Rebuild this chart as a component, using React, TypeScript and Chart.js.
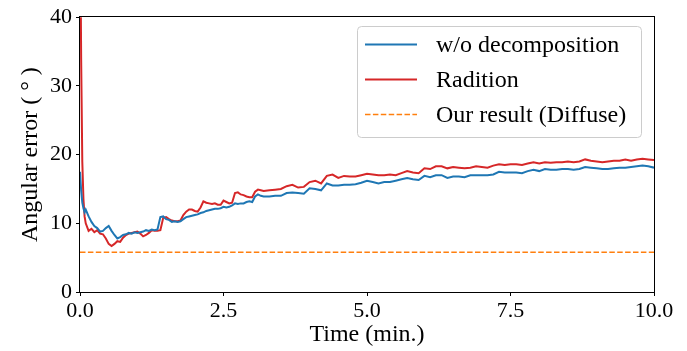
import React, { useEffect, useRef } from "react";
import { Chart, registerables } from "chart.js";

Chart.register(...registerables);

const times = [
  0, 0.02, 0.04, 0.06, 0.08, 0.1, 0.15, 0.2, 0.25, 0.3, 0.35, 0.4, 0.45, 0.5, 0.55, 0.6, 0.65, 0.7, 0.75, 0.8,
  0.85, 0.9, 0.95, 1.0, 1.05, 1.1, 1.15, 1.2, 1.25, 1.3, 1.35, 1.4, 1.45, 1.5, 1.55, 1.6, 1.65, 1.7, 1.75, 1.8,
  1.85, 1.9, 1.95, 2.0, 2.05, 2.1, 2.15, 2.2, 2.25, 2.3, 2.35, 2.4, 2.45, 2.5, 2.55, 2.6, 2.65, 2.7, 2.75, 2.8,
  2.85, 2.9, 2.95, 3.0, 3.05, 3.1, 3.15, 3.2, 3.3, 3.4, 3.5, 3.6, 3.7, 3.8, 3.9, 4.0, 4.1, 4.2, 4.3, 4.4,
  4.5, 4.6, 4.7, 4.8, 4.9, 5.0, 5.1, 5.2, 5.3, 5.4, 5.5, 5.6, 5.7, 5.8, 5.9, 6.0, 6.1, 6.2, 6.3, 6.4,
  6.5, 6.6, 6.7, 6.8, 6.9, 7.0, 7.1, 7.2, 7.3, 7.4, 7.5, 7.6, 7.7, 7.8, 7.9, 8.0, 8.1, 8.2, 8.3, 8.4,
  8.5, 8.6, 8.7, 8.8, 8.9, 9.0, 9.1, 9.2, 9.3, 9.4, 9.5, 9.6, 9.7, 9.8, 9.9, 10.0,
];

const woDecomposition = [
  17.5, 14.8, 13.0, 12.2, 11.6, 12.0, 11.0, 10.2, 9.6, 9.3, 8.8, 8.9, 9.3, 9.6, 8.9, 8.3, 7.8, 8.0, 8.3, 8.4,
  8.6, 8.5, 8.7, 8.6, 8.7, 8.8, 9.0, 8.9, 9.1, 9.0, 9.1, 10.9, 11.0, 10.6, 10.5, 10.2, 10.3, 10.2, 10.3, 10.6,
  10.9, 11.0, 11.1, 11.2, 11.3, 11.5, 11.6, 11.8, 11.9, 12.0, 12.1, 12.1, 12.2, 12.4, 12.3, 12.4, 12.6, 12.9, 12.8, 12.9,
  12.9, 13.1, 13.2, 13.1, 13.9, 14.2, 14.0, 13.9, 13.9, 14.0, 14.0, 14.4, 14.5, 14.4, 14.3, 15.1, 15.0, 14.8, 15.8, 15.5,
  15.5, 15.6, 15.6, 15.7, 15.9, 16.2, 16.0, 15.8, 16.0, 16.0, 16.2, 16.4, 16.6, 16.4, 16.3, 16.9, 16.7, 17.0, 17.0, 16.6,
  16.8, 16.8, 16.7, 17.0, 17.0, 17.0, 17.0, 17.1, 17.5, 17.4, 17.4, 17.4, 17.3, 17.6, 17.8, 17.6, 17.9, 17.8, 17.8, 17.9,
  17.9, 17.8, 17.9, 18.2, 18.1, 18.0, 17.9, 17.9, 18.0, 18.1, 18.1, 18.2, 18.3, 18.4, 18.3, 18.1,
];

const radition = [
  60, 34, 19, 13.5, 11.0, 10.0, 8.9, 9.2, 8.7, 9.0, 8.5, 8.4, 7.8, 7.0, 6.7, 7.0, 7.4, 7.3, 7.9, 8.3,
  8.5, 8.6, 8.7, 8.8, 8.5, 8.1, 8.3, 8.6, 9.0, 8.9, 8.9, 9.0, 10.8, 10.9, 10.6, 10.4, 10.3, 10.3, 10.4, 11.2,
  11.7, 12.0, 12.0, 11.8, 11.7, 12.3, 13.2, 13.0, 12.9, 12.8, 12.9, 12.7, 12.7, 13.3, 13.1, 12.9, 13.0, 14.4, 14.5, 14.2,
  14.1, 13.9, 13.8, 13.8, 14.6, 14.9, 14.8, 14.7, 14.8, 14.9, 15.0, 15.4, 15.6, 15.2, 15.3, 16.0, 16.2, 15.8, 16.9, 17.1,
  16.6, 16.9, 16.8, 16.8, 17.0, 17.2, 17.1, 17.0, 17.0, 17.1, 17.0, 17.3, 17.6, 17.4, 17.3, 18.0, 17.9, 18.3, 18.3, 18.0,
  18.2, 18.1, 18.0, 18.1, 18.3, 18.2, 18.1, 18.4, 18.6, 18.5, 18.6, 18.6, 18.5, 18.7, 18.9, 18.7, 18.9, 18.8, 18.9, 18.9,
  19.0, 18.9, 19.0, 19.3, 19.1, 19.0, 18.9, 19.0, 19.1, 19.1, 19.3, 19.1, 19.3, 19.4, 19.3, 19.2,
];

const ourResultTimes = [0, 10];
const ourResultValues = [5.8, 5.8];

const seriesLabels = ["w/o decomposition", "Radition", "Our result (Diffuse)"];
const seriesColors = ["#1f77b4", "#d62728", "#ff7f0e"];

const xTicks = [0, 2.5, 5, 7.5, 10];
const yTicks = [0, 10, 20, 30, 40];

const FONT = "'Liberation Serif', 'Times New Roman', serif";

const framePlugin = {
  id: "frame",
  afterDatasetsDraw(chart: any) {
    const { ctx, chartArea } = chart;
    const { left, right, top, bottom } = chartArea;
    ctx.save();
    ctx.strokeStyle = "#000";
    ctx.lineWidth = 1;
    ctx.strokeRect(Math.round(left) - 0.5, Math.round(top) - 0.5, Math.round(right - left) + 1, Math.round(bottom - top) + 1);
    ctx.restore();
  },
};

const legendPlugin = {
  id: "insideLegend",
  afterDraw(chart: any) {
    const { ctx } = chart;
    const x0 = 357.5, y0 = 26.5, w = 284, h = 111, r = 4;
    ctx.save();
    ctx.beginPath();
    ctx.moveTo(x0 + r, y0);
    ctx.lineTo(x0 + w - r, y0);
    ctx.arcTo(x0 + w, y0, x0 + w, y0 + r, r);
    ctx.lineTo(x0 + w, y0 + h - r);
    ctx.arcTo(x0 + w, y0 + h, x0 + w - r, y0 + h, r);
    ctx.lineTo(x0 + r, y0 + h);
    ctx.arcTo(x0, y0 + h, x0, y0 + h - r, r);
    ctx.lineTo(x0, y0 + r);
    ctx.arcTo(x0, y0, x0 + r, y0, r);
    ctx.closePath();
    ctx.fillStyle = "rgba(255,255,255,0.8)";
    ctx.fill();
    ctx.strokeStyle = "#cccccc";
    ctx.lineWidth = 1;
    ctx.stroke();
    chart.data.datasets.forEach((ds: any, i: number) => {
      const y = 44.5 + i * 35;
      ctx.beginPath();
      ctx.setLineDash(ds.borderDash || []);
      ctx.strokeStyle = ds.borderColor;
      ctx.lineWidth = ds.borderWidth;
      ctx.moveTo(365, y);
      ctx.lineTo(417, y);
      ctx.stroke();
      ctx.setLineDash([]);
      ctx.fillStyle = "#000";
      ctx.font = `24px ${FONT}`;
      ctx.textBaseline = "middle";
      ctx.textAlign = "left";
      ctx.fillText(ds.label, 436, y + 1);
    });
    ctx.restore();
  },
};

export default function App() {
  const canvasRef = useRef<HTMLCanvasElement | null>(null);

  useEffect(() => {
    const canvas = canvasRef.current;
    if (!canvas) return;
    const toPoints = (xs: number[], ys: number[]) => xs.map((x, i) => ({ x, y: ys[i] }));
    const chart = new Chart(canvas, {
      type: "line",
      data: {
        datasets: [
          {
            label: seriesLabels[0],
            data: toPoints(times, woDecomposition),
            borderColor: seriesColors[0],
            borderWidth: 2,
            pointRadius: 0,
            tension: 0,
            fill: false,
          },
          {
            label: seriesLabels[1],
            data: toPoints(times, radition),
            borderColor: seriesColors[1],
            borderWidth: 2,
            pointRadius: 0,
            tension: 0,
            fill: false,
          },
          {
            label: seriesLabels[2],
            data: toPoints(ourResultTimes, ourResultValues),
            borderColor: seriesColors[2],
            borderWidth: 1.5,
            borderDash: [5.5, 2.4],
            pointRadius: 0,
            tension: 0,
            fill: false,
          },
        ],
      },
      options: {
        animation: false,
        responsive: false,
        maintainAspectRatio: false,
        layout: { padding: { left: 0, right: 33, top: 13, bottom: 0 } },
        plugins: {
          legend: { display: false },
          tooltip: { enabled: false },
        },
        scales: {
          x: {
            type: "linear",
            min: 0,
            max: 10,
            afterFit: (scale: any) => {
              scale.height = 59;
            },
            afterBuildTicks: (scale: any) => {
              scale.ticks = xTicks.map((v) => ({ value: v }));
            },
            grid: {
              drawOnChartArea: false,
              drawTicks: true,
              tickLength: 4,
              tickColor: "#000",
            },
            border: { display: false },
            ticks: {
              color: "#000",
              font: { family: FONT, size: 22 },
              padding: 2,
              maxRotation: 0,
              autoSkip: false,
              callback: (v: any) => Number(v).toFixed(1),
            },
            title: {
              display: true,
              text: "Time (min.)",
              color: "#000",
              font: { family: FONT, size: 24 },
              padding: { top: 0, bottom: 2 },
            },
          },
          y: {
            type: "linear",
            min: 0,
            max: 40,
            afterFit: (scale: any) => {
              scale.width = 80;
            },
            afterBuildTicks: (scale: any) => {
              scale.ticks = yTicks.map((v) => ({ value: v }));
            },
            grid: {
              drawOnChartArea: false,
              drawTicks: true,
              tickLength: 4,
              tickColor: "#000",
            },
            border: { display: false },
            ticks: {
              color: "#000",
              font: { family: FONT, size: 22 },
              padding: 4,
              autoSkip: false,
              callback: (v: any) => String(v),
            },
            title: {
              display: true,
              text: "Angular error ( ° )",
              color: "#000",
              font: { family: FONT, size: 24 },
              padding: { top: 16, bottom: 0 },
            },
          },
        },
      },
      plugins: [framePlugin, legendPlugin],
    });
    return () => chart.destroy();
  }, []);

  return (
    <div style={{ position: "absolute", left: 0, top: 0, width: 687, height: 351, background: "#fff" }}>
      <canvas ref={canvasRef} width={687} height={351} style={{ display: "block" }} />
    </div>
  );
}
